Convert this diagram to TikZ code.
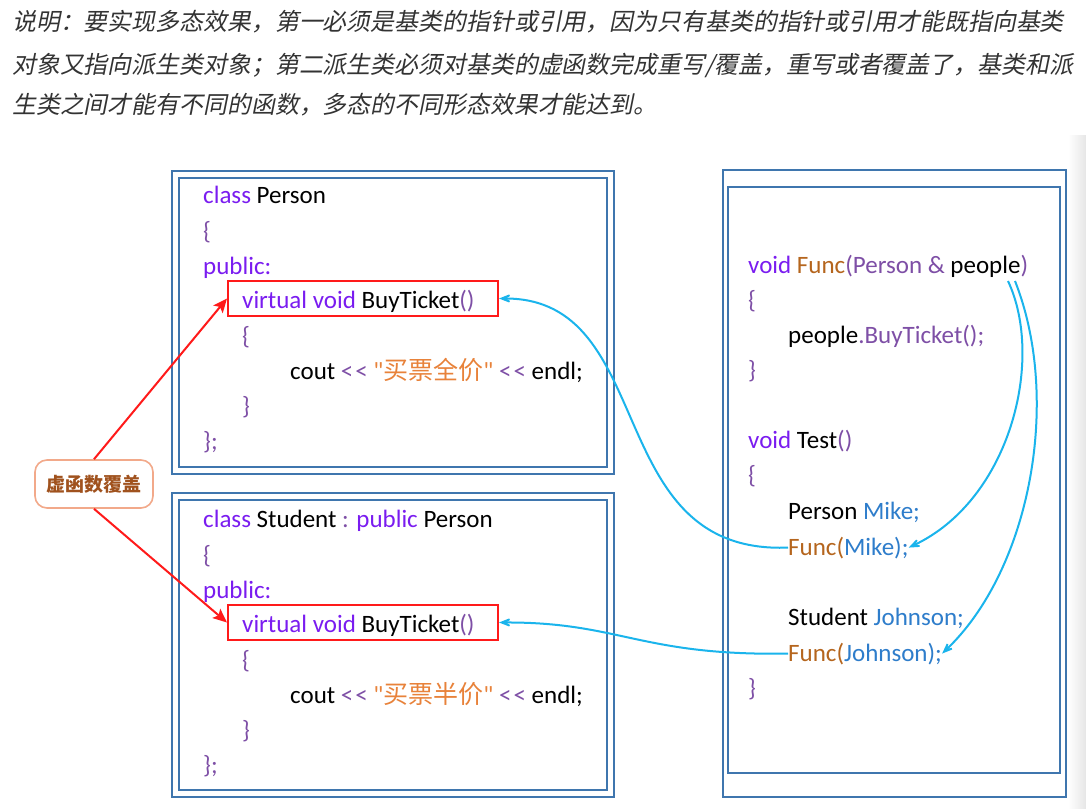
\documentclass[tikz,border=0pt]{standalone}
\usepackage{fontspec}
\setmainfont{Carlito}[Ligatures=TeXOff]
\newfontfamily\cjk{Noto Sans CJK SC}
\newfontfamily\cjkit[FakeSlant=0.2]{Noto Sans CJK SC}
\usetikzlibrary{arrows.meta}
\definecolor{kw}{HTML}{7A1CF0}
\definecolor{pu}{HTML}{7E4FA6}
\definecolor{fn}{HTML}{B5651D}
\definecolor{strc}{HTML}{E8823A}
\definecolor{var}{HTML}{2E7DCB}
\definecolor{boxblue}{HTML}{3F76AE}
\definecolor{redc}{HTML}{FF1A1A}
\definecolor{cyanc}{HTML}{1AB4EC}
\definecolor{lblborder}{HTML}{F2A98A}
\definecolor{lbltext}{HTML}{A0521E}
\definecolor{txtgray}{HTML}{333333}
\definecolor{edgegray}{HTML}{E6E6E6}
\newcommand{\K}[1]{\textcolor{kw}{#1}}
\newcommand{\Pu}[1]{\textcolor{pu}{#1}}
\newcommand{\Fn}[1]{\textcolor{fn}{#1}}
\newcommand{\Sv}[1]{\textcolor{strc}{#1}}
\newcommand{\Vr}[1]{\textcolor{var}{#1}}
\newcommand{\LL}{\Pu{<\kern2pt<}}
\begin{document}
\begin{tikzpicture}[x=1pt,y=-1pt,
  code/.style={anchor=base west, inner sep=0pt, font=\fontsize{25}{30}\selectfont},
  desc/.style={anchor=base west, inner sep=0pt, text=txtgray, font=\cjkit\fontsize{23.9}{30}\selectfont},
  bluebox/.style={draw=boxblue, line width=2.2pt, inner sep=0pt},
  redbox/.style={draw=redc, line width=2pt, inner sep=0pt, minimum width=270pt, minimum height=35pt},
  redarrow/.style={draw=redc, line width=2pt, -{Stealth[length=14pt,width=12pt,inset=3pt]}},
  bluearrow/.style={draw=cyanc, line width=2pt, -{Stealth[length=19pt,width=15pt,inset=12pt]}},
  lblbox/.style={draw=lblborder, line width=1.6pt, rounded corners=12pt, fill=white, minimum width=118pt, minimum height=48pt, text=lbltext, font=\cjk\bfseries\fontsize{19}{22}\selectfont}
]
\useasboundingbox (0,0) rectangle (1086,808);
\fill[white] (0,0) rectangle (1086,808);
\shade[left color=white, right color=edgegray] (1068,135) rectangle (1086,808);

% description
\node[desc] (t1) at (12,31) {说明：要实现多态效果，第一必须是基类的指针或引用，因为只有基类的指针或引用才能既指向基类};
\node[desc] (t2) at (12,74) {对象又指向派生类对象；第二派生类必须对基类的虚函数完成重写/覆盖，重写或者覆盖了，基类和派};
\node[desc] (t3) at (12,113) {生类之间才能有不同的函数，多态的不同形态效果才能达到。};

% boxes
\node[bluebox, minimum width=442pt, minimum height=303pt] (po) at (393,322.5) {};
\node[bluebox, minimum width=428pt, minimum height=289pt] (pi) at (393,322.5) {};
\node[bluebox, minimum width=442pt, minimum height=304pt] (so) at (393,645) {};
\node[bluebox, minimum width=428pt, minimum height=290pt] (si) at (393,645) {};
\node[bluebox, minimum width=343pt, minimum height=627pt] (ro) at (894.5,483.5) {};
\node[bluebox, minimum width=332pt, minimum height=586pt] (ri) at (894,480) {};

% Person class
\node[code] (a1) at (203,203) {\K{class} Person};
\node[code] (a2) at (203,239) {\Pu{\{}};
\node[code] (a3) at (203,274) {\K{public:}};
\node[code] (a4) at (242,308) {\K{virtual void} BuyTicket\Pu{()}};
\node[code] (a5) at (242,344) {\Pu{\{}};
\node[code] (a6) at (290,379) {cout \LL{} \Sv{"{\cjk 买票全价}"} \LL{} endl;};
\node[code] (a7) at (242,414) {\Pu{\}}};
\node[code] (a8) at (203,449) {\Pu{\};}};
\node[redbox] (rb1) at (363,298.5) {};

% Student class
\node[code] (b1) at (203,527) {\K{class} Student \Pu{:} \K{public} Person};
\node[code] (b2) at (203,563) {\Pu{\{}};
\node[code] (b3) at (203,598) {\K{public:}};
\node[code] (b4) at (242,632) {\K{virtual void} BuyTicket\Pu{()}};
\node[code] (b5) at (242,668) {\Pu{\{}};
\node[code] (b6) at (290,703) {cout \LL{} \Sv{"{\cjk 买票半价}"} \LL{} endl;};
\node[code] (b7) at (242,738) {\Pu{\}}};
\node[code] (b8) at (203,773) {\Pu{\};}};
\node[redbox] (rb2) at (363,622.5) {};

% right code
\node[code] (c1) at (748,273) {\K{void} \Fn{Func}\Pu{(Person \&} people\Pu{)}};
\node[code] (c2) at (748,308) {\Pu{\{}};
\node[code] (c3) at (788,343) {people\Pu{.BuyTicket();}};
\node[code] (c4) at (748,378) {\Pu{\}}};
\node[code] (c5) at (748,448) {\K{void} Test\Pu{()}};
\node[code] (c6) at (748,483) {\Pu{\{}};
\node[code] (c7) at (788,519) {Person \Vr{Mike;}};
\node[code] (fm) at (788,555) {\Fn{Func(}\Vr{Mike);}};
\node[code] (c9) at (788,625) {Student \Vr{Johnson;}};
\node[code] (fj) at (788,661) {\Fn{Func(}\Vr{Johnson);}};
\node[code] (c11) at (748,696) {\Pu{\}}};

% label
\node[lblbox] (lbl) at (94,484) {虚函数覆盖};

% connectors
\coordinate (p1) at (1008,281);
\coordinate (p2) at (1015,281);
\draw[redarrow] (lbl.north) -- (rb1.west);
\draw[redarrow] (lbl.south) -- (rb2.west);
\draw[bluearrow] (fm.west) .. controls (600,555) and (660,298) .. (rb1.east);
\draw[bluearrow] (fj.west) .. controls (640,656) and (620,622) .. (rb2.east);
\draw[bluearrow] (p1) .. controls (1045,360) and (1010,500) .. (fm.east);
\draw[bluearrow] (p2) .. controls (1062,400) and (1030,570) .. (fj.east);
\end{tikzpicture}
\end{document}
